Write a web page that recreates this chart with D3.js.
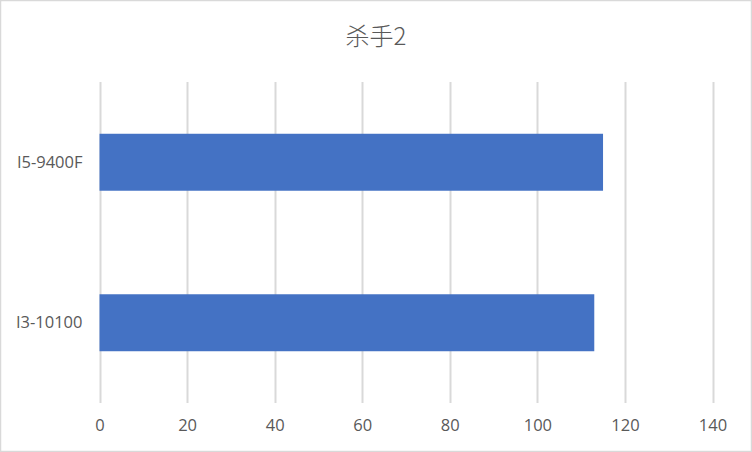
<!DOCTYPE html>
<html>
<head>
<meta charset="utf-8">
<script src="https://cdn.jsdelivr.net/npm/d3@7"></script>
<style>
	html, body { margin: 0; padding: 0; background: #fff; }
	svg { display: block; }
</style>
</head>
<body>
<div id="viz"></div>
<script>
// chart data
var titleText = "杀手2";
var categories = ["I5-9400F", "I3-10100"];
var values = [115, 113];
var xTicks = [0, 20, 40, 60, 80, 100, 120, 140];

var WIDTH = 752;
var HEIGHT = 452;
var PLOT_LEFT = 99.5;
var PLOT_RIGHT = 712.5;
var PLOT_TOP = 82;
var PLOT_BOTTOM = 403;

var TEXT_COLOR = "#595959";
var GRID_COLOR = "#d9d9d9";
var BAR_COLOR = "#4472C4";
var LABEL_FONT = "'Open Sans', 'Noto Sans', sans-serif";

var svg = d3.select("#viz").append("svg")
	.attr("width", WIDTH)
	.attr("height", HEIGHT);

// chart frame
svg.append("rect")
	.attr("x", 0.5)
	.attr("y", 0.5)
	.attr("width", WIDTH - 1)
	.attr("height", HEIGHT - 1)
	.attr("fill", "#fff")
	.attr("stroke", GRID_COLOR)
	.attr("stroke-width", 1.5);

var x = d3.scaleLinear()
	.domain([0, 140])
	.range([PLOT_LEFT, PLOT_RIGHT]);

// Excel gap width 182% -> bar = band / 2.82
var y = d3.scaleBand()
	.domain(categories)
	.range([PLOT_TOP, PLOT_BOTTOM])
	.paddingInner(0.645)
	.paddingOuter(0.3225);

// vertical gridlines
svg.append("g")
	.selectAll("line")
	.data(xTicks)
	.enter().append("line")
	.attr("x1", function(d) { return Math.round(x(d)) + 0.5; })
	.attr("x2", function(d) { return Math.round(x(d)) + 0.5; })
	.attr("y1", PLOT_TOP)
	.attr("y2", PLOT_BOTTOM)
	.attr("stroke", GRID_COLOR)
	.attr("stroke-width", 2);

// bars
svg.append("g")
	.selectAll("rect")
	.data(categories)
	.enter().append("rect")
	.attr("x", x(0))
	.attr("y", function(d) { return y(d); })
	.attr("width", function(d, i) { return x(values[i]) - x(0); })
	.attr("height", y.bandwidth())
	.attr("fill", BAR_COLOR);

// x axis labels
var xAxis = d3.axisBottom(x)
	.tickValues(xTicks)
	.tickSize(0)
	.tickPadding(16);

var gx = svg.append("g")
	.attr("transform", "translate(0," + PLOT_BOTTOM + ")")
	.call(xAxis);
gx.select(".domain").remove();
gx.selectAll("text")
	.attr("fill", TEXT_COLOR)
	.attr("font-family", LABEL_FONT)
	.attr("font-size", 16.5);

// category labels
var yAxis = d3.axisLeft(y)
	.tickSize(0)
	.tickPadding(17);

var gy = svg.append("g")
	.attr("transform", "translate(" + PLOT_LEFT + ",0)")
	.call(yAxis);
gy.select(".domain").remove();
gy.selectAll("text")
	.attr("fill", TEXT_COLOR)
	.attr("font-family", LABEL_FONT)
	.attr("font-size", 16.5);

// title
svg.append("text")
	.attr("x", WIDTH / 2)
	.attr("y", 38)
	.attr("text-anchor", "middle")
	.attr("dominant-baseline", "middle")
	.attr("fill", TEXT_COLOR)
	.attr("font-family", "'Noto Sans CJK SC', sans-serif")
	.attr("font-weight", 300)
	.attr("font-size", 24)
	.text(titleText);
</script>
</body>
</html>
